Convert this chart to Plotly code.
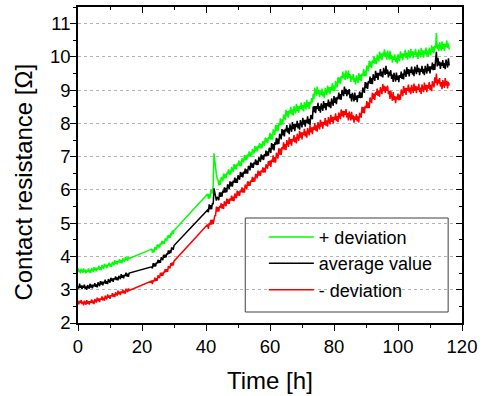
import plotly.graph_objects as go

# ---- data ----
# measurement times [h] of the three recorded segments
time_seg1 = [0, 0.25, 0.5, 0.75, 1, 1.25, 1.5, 1.75, 2, 2.25, 2.5, 2.75, 3,
             3.25, 3.5, 3.75, 4, 4.25, 4.5, 4.75, 5, 5.25, 5.5, 5.75, 6, 6.25,
             6.5, 6.75, 7, 7.25, 7.5, 7.75, 8, 8.25, 8.5, 8.75, 9, 9.25, 9.5,
             9.75, 10, 10.25, 10.5, 10.75, 11, 11.25, 11.5, 11.75, 12, 12.25, 12.5, 12.75,
             13, 13.25, 13.5, 13.75, 14, 14.25, 14.5, 14.75, 15, 15.25, 15.5, 15.75, 16]
time_seg2 = [23, 23.25, 23.5, 23.75, 24, 24.25, 24.5, 24.75, 25, 25.25, 25.5, 25.75, 26,
             26.25, 26.5, 26.75, 27, 27.25, 27.5, 27.75, 28, 28.25, 28.5, 28.75, 29,
             29.25, 29.5, 29.75, 30]
time_seg3 = [40.5, 40.75, 41, 41.25, 41.5, 41.75, 42, 42.25, 42.5, 42.75, 43, 43.25, 43.5,
             43.75, 44, 44.25, 44.5, 44.75, 45, 45.25, 45.5, 45.75, 46, 46.25, 46.5, 46.75,
             47, 47.25, 47.5, 47.75, 48, 48.25, 48.5, 48.75, 49, 49.25, 49.5, 49.75, 50,
             50.25, 50.5, 50.75, 51, 51.25, 51.5, 51.75, 52, 52.25, 52.5, 52.75, 53, 53.25,
             53.5, 53.75, 54, 54.25, 54.5, 54.75, 55, 55.25, 55.5, 55.75, 56, 56.25, 56.5,
             56.75, 57, 57.25, 57.5, 57.75, 58, 58.25, 58.5, 58.75, 59, 59.25, 59.5, 59.75,
             60, 60.25, 60.5, 60.75, 61, 61.25, 61.5, 61.75, 62, 62.25, 62.5, 62.75, 63,
             63.25, 63.5, 63.75, 64, 64.25, 64.5, 64.75, 65, 65.25, 65.5, 65.75, 66, 66.25,
             66.5, 66.75, 67, 67.25, 67.5, 67.75, 68, 68.25, 68.5, 68.75, 69, 69.25, 69.5,
             69.75, 70, 70.25, 70.5, 70.75, 71, 71.25, 71.5, 71.75, 72, 72.25, 72.5, 72.75,
             73, 73.25, 73.5, 73.75, 74, 74.25, 74.5, 74.75, 75, 75.25, 75.5, 75.75, 76,
             76.25, 76.5, 76.75, 77, 77.25, 77.5, 77.75, 78, 78.25, 78.5, 78.75, 79, 79.25,
             79.5, 79.75, 80, 80.25, 80.5, 80.75, 81, 81.25, 81.5, 81.75, 82, 82.25, 82.5,
             82.75, 83, 83.25, 83.5, 83.75, 84, 84.25, 84.5, 84.75, 85, 85.25, 85.5, 85.75,
             86, 86.25, 86.5, 86.75, 87, 87.25, 87.5, 87.75, 88, 88.25, 88.5, 88.75, 89,
             89.25, 89.5, 89.75, 90, 90.25, 90.5, 90.75, 91, 91.25, 91.5, 91.75, 92, 92.25,
             92.5, 92.75, 93, 93.25, 93.5, 93.75, 94, 94.25, 94.5, 94.75, 95, 95.25, 95.5,
             95.75, 96, 96.25, 96.5, 96.75, 97, 97.25, 97.5, 97.75, 98, 98.25, 98.5, 98.75,
             99, 99.25, 99.5, 99.75, 100, 100.25, 100.5, 100.75, 101, 101.25, 101.5, 101.75, 102,
             102.25, 102.5, 102.75, 103, 103.25, 103.5, 103.75, 104, 104.25, 104.5, 104.75, 105, 105.25,
             105.5, 105.75, 106, 106.25, 106.5, 106.75, 107, 107.25, 107.5, 107.75, 108, 108.25, 108.5,
             108.75, 109, 109.25, 109.5, 109.75, 110, 110.25, 110.5, 110.75, 111, 111.25, 111.5, 111.75,
             112, 112.25, 112.5, 112.75, 113, 113.25, 113.5, 113.75, 114, 114.25, 114.5, 114.75, 115,
             115.25, 115.5, 115.75, 116]

# "+ deviation" curve [Ohm]
plus_seg1 = [3.65, 3.53, 3.60, 3.49, 3.63, 3.58, 3.51, 3.64, 3.53, 3.60, 3.49, 3.59, 3.54,
             3.64, 3.52, 3.60, 3.50, 3.65, 3.60, 3.54, 3.68, 3.58, 3.66, 3.55, 3.66, 3.62,
             3.72, 3.60, 3.68, 3.59, 3.74, 3.69, 3.63, 3.78, 3.68, 3.75, 3.65, 3.76, 3.72,
             3.81, 3.70, 3.78, 3.69, 3.84, 3.80, 3.74, 3.89, 3.78, 3.86, 3.76, 3.87, 3.82,
             3.92, 3.81, 3.89, 3.79, 3.94, 3.90, 3.84, 3.99, 3.89, 3.97, 3.87, 3.98, 3.94]
plus_seg2 = [4.22, 4.12, 4.21, 4.12, 4.28, 4.25, 4.20, 4.36, 4.27, 4.36, 4.27, 4.39, 4.36,
             4.47, 4.37, 4.46, 4.38, 4.54, 4.52, 4.47, 4.63, 4.55, 4.64, 4.56, 4.68, 4.66,
             4.78, 4.68, 4.78]
plus_seg3 = [5.88, 5.73, 5.88, 5.75, 5.99, 5.96, 5.89, 6.14, 7.10, 6.85, 6.62, 6.46, 6.34,
             6.30, 6.14, 6.28, 6.15, 6.39, 6.34, 6.26, 6.49, 6.35, 6.48, 6.35, 6.52, 6.47,
             6.62, 6.46, 6.59, 6.46, 6.69, 6.64, 6.55, 6.78, 6.63, 6.76, 6.62, 6.79, 6.73,
             6.88, 6.72, 6.85, 6.72, 6.95, 6.91, 6.82, 7.05, 6.90, 7.04, 6.90, 7.07, 7.01,
             7.16, 7.00, 7.13, 7.00, 7.23, 7.18, 7.09, 7.32, 7.17, 7.30, 7.16, 7.33, 7.27,
             7.41, 7.25, 7.38, 7.25, 7.47, 7.42, 7.33, 7.57, 7.42, 7.55, 7.41, 7.59, 7.53,
             7.72, 7.51, 7.68, 7.51, 7.82, 7.75, 7.65, 7.96, 7.77, 7.95, 7.76, 8.00, 7.93,
             8.15, 7.95, 8.12, 7.96, 8.27, 8.21, 8.10, 8.41, 8.21, 8.37, 8.17, 8.39, 8.30,
             8.50, 8.27, 8.42, 8.23, 8.52, 8.43, 8.30, 8.59, 8.38, 8.53, 8.32, 8.53, 8.44,
             8.63, 8.40, 8.55, 8.36, 8.64, 8.55, 8.42, 8.71, 8.49, 8.64, 8.44, 8.65, 8.57,
             8.76, 8.63, 8.89, 8.74, 9.07, 8.97, 8.83, 9.11, 8.89, 9.02, 8.79, 8.97, 8.86,
             9.05, 8.81, 8.96, 8.76, 9.06, 8.97, 8.85, 9.14, 8.93, 9.09, 8.88, 9.09, 9.01,
             9.21, 8.98, 9.14, 8.97, 9.27, 9.20, 9.08, 9.39, 9.21, 9.38, 9.19, 9.42, 9.35,
             9.56, 9.35, 9.50, 9.31, 9.59, 9.50, 9.34, 9.60, 9.36, 9.48, 9.25, 9.43, 9.32,
             9.48, 9.24, 9.37, 9.17, 9.44, 9.35, 9.22, 9.51, 9.30, 9.47, 9.27, 9.50, 9.42,
             9.63, 9.42, 9.59, 9.42, 9.74, 9.67, 9.57, 9.88, 9.69, 9.86, 9.67, 9.90, 9.82,
             10.02, 9.80, 9.96, 9.78, 10.07, 9.99, 9.86, 10.16, 9.95, 10.11, 9.90, 10.12, 10.03,
             10.23, 10.00, 10.13, 9.92, 10.19, 10.08, 9.92, 10.18, 9.94, 10.06, 9.83, 10.02, 9.91,
             10.08, 9.85, 9.99, 9.80, 10.08, 10.00, 9.87, 10.17, 9.96, 10.11, 9.90, 10.11, 10.02,
             10.21, 9.97, 10.12, 9.92, 10.20, 10.10, 9.96, 10.24, 10.03, 10.17, 9.96, 10.16, 10.06,
             10.24, 10.00, 10.14, 9.94, 10.22, 10.12, 9.98, 10.27, 10.05, 10.20, 9.98, 10.19, 10.09,
             10.28, 10.04, 10.18, 9.99, 10.27, 10.17, 10.05, 10.35, 10.14, 10.30, 10.11, 10.34, 10.27,
             10.72, 10.24, 10.37, 10.17, 10.44, 10.34, 10.19, 10.47, 10.24, 10.39, 10.18, 10.39, 10.30,
             10.49, 10.26, 10.41, 10.22]

# "average value" curve [Ohm]
avg_seg1 = [3.11, 3.04, 3.18, 3.06, 3.13, 3.02, 3.12, 3.06, 3.15, 3.03, 3.10, 3.00, 3.14,
            3.10, 3.03, 3.18, 3.07, 3.15, 3.04, 3.15, 3.10, 3.20, 3.09, 3.16, 3.07, 3.22,
            3.18, 3.11, 3.26, 3.16, 3.24, 3.13, 3.24, 3.20, 3.30, 3.18, 3.26, 3.17, 3.32,
            3.27, 3.21, 3.36, 3.26, 3.34, 3.24, 3.35, 3.31, 3.40, 3.29, 3.37, 3.28, 3.42,
            3.38, 3.32, 3.47, 3.36, 3.44, 3.34, 3.45, 3.41, 3.51, 3.40, 3.48, 3.39, 3.50]
avg_seg2 = [3.69, 3.64, 3.80, 3.70, 3.79, 3.70, 3.82, 3.79, 3.90, 3.80, 3.89, 3.81, 3.97,
            3.94, 3.89, 4.05, 3.96, 4.05, 3.97, 4.09, 4.06, 4.18, 4.08, 4.18, 4.10, 4.27,
            4.25, 4.20, 4.33]
avg_seg3 = [5.40, 5.33, 5.57, 5.42, 5.54, 5.42, 5.60, 5.57, 6.05, 5.90, 5.80, 5.68, 5.79,
            5.76, 5.69, 5.93, 5.79, 5.93, 5.80, 5.98, 5.92, 6.08, 5.92, 6.06, 5.93, 6.17,
            6.12, 6.03, 6.26, 6.11, 6.24, 6.10, 6.28, 6.22, 6.37, 6.21, 6.34, 6.21, 6.44,
            6.39, 6.31, 6.54, 6.39, 6.52, 6.38, 6.55, 6.49, 6.64, 6.49, 6.62, 6.49, 6.72,
            6.68, 6.59, 6.82, 6.67, 6.80, 6.66, 6.83, 6.77, 6.92, 6.75, 6.88, 6.75, 6.98,
            6.93, 6.84, 7.07, 6.92, 7.04, 6.90, 7.08, 7.02, 7.18, 7.02, 7.16, 7.03, 7.27,
            7.22, 7.11, 7.41, 7.22, 7.38, 7.19, 7.43, 7.36, 7.57, 7.37, 7.54, 7.38, 7.69,
            7.62, 7.52, 7.83, 7.64, 7.81, 7.61, 7.84, 7.76, 7.95, 7.72, 7.87, 7.68, 7.97,
            7.88, 7.75, 8.04, 7.83, 7.98, 7.77, 7.98, 7.89, 8.08, 7.85, 8.00, 7.81, 8.10,
            8.01, 7.88, 8.17, 7.96, 8.11, 7.90, 8.11, 8.02, 8.21, 7.98, 8.14, 7.95, 8.25,
            8.16, 8.13, 8.51, 8.34, 8.52, 8.31, 8.52, 8.43, 8.62, 8.38, 8.52, 8.32, 8.60,
            8.51, 8.38, 8.67, 8.46, 8.61, 8.40, 8.61, 8.52, 8.72, 8.49, 8.65, 8.46, 8.75,
            8.66, 8.53, 8.82, 8.62, 8.78, 8.58, 8.80, 8.73, 8.93, 8.72, 8.88, 8.71, 9.01,
            8.94, 8.82, 9.11, 8.89, 9.04, 8.82, 9.00, 8.87, 9.03, 8.76, 8.88, 8.66, 8.92,
            8.80, 8.66, 8.93, 8.71, 8.84, 8.64, 8.85, 8.77, 8.96, 8.76, 8.93, 8.77, 9.08,
            9.02, 8.92, 9.24, 9.06, 9.23, 9.04, 9.27, 9.20, 9.41, 9.19, 9.36, 9.18, 9.48,
            9.40, 9.28, 9.58, 9.37, 9.52, 9.31, 9.52, 9.44, 9.63, 9.41, 9.56, 9.38, 9.67,
            9.59, 9.46, 9.73, 9.49, 9.62, 9.38, 9.56, 9.44, 9.60, 9.34, 9.47, 9.25, 9.52,
            9.40, 9.26, 9.53, 9.31, 9.44, 9.24, 9.45, 9.37, 9.56, 9.34, 9.50, 9.32, 9.62,
            9.53, 9.40, 9.69, 9.48, 9.63, 9.41, 9.62, 9.52, 9.71, 9.47, 9.62, 9.42, 9.71,
            9.61, 9.48, 9.76, 9.54, 9.67, 9.45, 9.64, 9.55, 9.73, 9.50, 9.64, 9.45, 9.73,
            9.64, 9.50, 9.79, 9.57, 9.72, 9.50, 9.72, 9.63, 9.83, 9.60, 9.78, 9.61, 9.93,
            10.15, 9.71, 9.97, 9.74, 9.86, 9.64, 9.83, 9.73, 9.90, 9.67, 9.82, 9.63, 9.92,
            9.82, 9.68, 9.96, 9.74]

# "- deviation" curve [Ohm]
minus_seg1 = [2.67, 2.56, 2.66, 2.60, 2.69, 2.57, 2.64, 2.53, 2.67, 2.62, 2.55, 2.69, 2.58,
              2.66, 2.55, 2.66, 2.61, 2.71, 2.59, 2.67, 2.57, 2.72, 2.68, 2.61, 2.76, 2.66,
              2.74, 2.63, 2.74, 2.70, 2.80, 2.68, 2.76, 2.67, 2.82, 2.77, 2.71, 2.86, 2.76,
              2.83, 2.73, 2.84, 2.80, 2.90, 2.79, 2.87, 2.78, 2.92, 2.88, 2.82, 2.97, 2.86,
              2.94, 2.84, 2.95, 2.90, 3.00, 2.89, 2.97, 2.88, 3.03, 2.99, 2.93, 3.04, 2.98]
minus_seg2 = [3.26, 3.17, 3.29, 3.25, 3.36, 3.26, 3.35, 3.27, 3.43, 3.40, 3.35, 3.51, 3.42,
              3.51, 3.42, 3.54, 3.51, 3.62, 3.53, 3.62, 3.54, 3.71, 3.68, 3.64, 3.80, 3.72,
              3.82, 3.73, 3.86]
minus_seg3 = [4.96, 4.83, 5.01, 4.95, 5.10, 4.96, 5.11, 4.97, 5.19, 5.22, 5.23, 5.50, 5.35,
              5.48, 5.35, 5.52, 5.46, 5.60, 5.44, 5.57, 5.43, 5.66, 5.60, 5.51, 5.74, 5.59,
              5.72, 5.58, 5.75, 5.68, 5.83, 5.67, 5.80, 5.66, 5.89, 5.84, 5.75, 5.98, 5.83,
              5.96, 5.82, 5.99, 5.93, 6.08, 5.92, 6.05, 5.92, 6.16, 6.11, 6.03, 6.26, 6.12,
              6.25, 6.12, 6.29, 6.24, 6.39, 6.24, 6.37, 6.25, 6.48, 6.44, 6.35, 6.58, 6.43,
              6.56, 6.42, 6.59, 6.53, 6.68, 6.52, 6.66, 6.53, 6.77, 6.72, 6.64, 6.87, 6.73,
              6.88, 6.69, 6.91, 6.84, 7.04, 6.83, 6.99, 6.82, 7.12, 7.05, 6.94, 7.25, 7.06,
              7.24, 7.05, 7.29, 7.22, 7.43, 7.21, 7.38, 7.20, 7.50, 7.41, 7.29, 7.58, 7.38,
              7.53, 7.33, 7.54, 7.46, 7.65, 7.43, 7.58, 7.40, 7.69, 7.61, 7.48, 7.78, 7.57,
              7.73, 7.52, 7.73, 7.65, 7.84, 7.61, 7.76, 7.57, 7.86, 7.77, 7.64, 7.94, 7.73,
              7.88, 7.68, 7.90, 7.81, 8.01, 7.78, 7.94, 7.75, 8.04, 7.95, 7.82, 8.11, 7.90,
              8.05, 7.84, 8.05, 7.96, 8.16, 7.93, 8.09, 7.90, 8.19, 8.10, 7.97, 8.26, 8.05,
              8.20, 7.99, 8.20, 8.11, 8.30, 8.07, 8.22, 8.04, 8.33, 8.25, 8.12, 8.42, 8.22,
              8.38, 8.18, 8.37, 8.26, 8.43, 8.18, 8.31, 8.09, 8.36, 8.24, 8.09, 8.35, 8.12,
              8.24, 8.02, 8.21, 8.11, 8.28, 8.06, 8.21, 8.03, 8.32, 8.27, 8.17, 8.50, 8.32,
              8.49, 8.30, 8.53, 8.46, 8.67, 8.46, 8.63, 8.46, 8.78, 8.71, 8.61, 8.92, 8.73,
              8.90, 8.71, 8.94, 8.86, 9.05, 8.83, 8.98, 8.80, 9.09, 9.01, 8.88, 9.18, 8.97,
              9.13, 8.92, 9.10, 8.98, 9.14, 8.88, 8.98, 8.74, 8.98, 8.84, 8.68, 8.94, 8.70,
              8.82, 8.61, 8.81, 8.72, 8.90, 8.70, 8.87, 8.71, 9.02, 8.94, 8.82, 9.12, 8.92,
              9.07, 8.86, 9.07, 8.98, 9.17, 8.93, 9.08, 8.88, 9.16, 9.06, 8.92, 9.20, 8.98,
              9.13, 8.91, 9.11, 9.01, 9.19, 8.94, 9.08, 8.89, 9.17, 9.08, 8.94, 9.23, 9.01,
              9.16, 8.94, 9.15, 9.05, 9.24, 9.00, 9.16, 8.97, 9.27, 9.18, 9.08, 9.39, 9.21,
              9.50, 9.14, 9.32, 9.20, 9.36, 9.11, 9.24, 9.03, 9.30, 9.21, 9.07, 9.36, 9.14,
              9.28, 9.05, 9.25, 9.14]

series_names = ["+ deviation", "average value", "- deviation"]
series_colors = ["#00ff00", "#000000", "#ff0000"]
x_tick_values = [0, 20, 40, 60, 80, 100, 120]
y_tick_values = [2, 3, 4, 5, 6, 7, 8, 9, 10, 11]

time_h = time_seg1 + time_seg2 + time_seg3
plus_deviation = plus_seg1 + plus_seg2 + plus_seg3
average_value = avg_seg1 + avg_seg2 + avg_seg3
minus_deviation = minus_seg1 + minus_seg2 + minus_seg3

for s in (plus_deviation, average_value, minus_deviation):
    assert len(s) == len(time_h), (len(s), len(time_h))

FONT = "Liberation Sans, Arial, sans-serif"

fig = go.Figure()
for name, vals, col in zip(series_names, [plus_deviation, average_value, minus_deviation], series_colors):
    fig.add_trace(go.Scatter(x=time_h, y=vals, mode="lines", name=name,
                             line=dict(color=col, width=1.5), hoverinfo="x+y"))

# empty trace so that the top/right frame axes (ticks pointing inward) are drawn
fig.add_trace(go.Scatter(x=[], y=[], xaxis="x2", yaxis="y2", showlegend=False,
                         hoverinfo="skip", mode="lines"))

axis_common = dict(showline=True, linecolor="black", linewidth=1.5, zeroline=False,
                   tickcolor="black", tickwidth=1.2, fixedrange=True)

fig.update_layout(
    width=484, height=396,
    margin=dict(l=78, r=18, t=7, b=73),
    paper_bgcolor="white", plot_bgcolor="white",
    font=dict(family=FONT, color="black"),
    xaxis=dict(range=[0, 120], tickvals=x_tick_values, ticks="outside", ticklen=6,
               showgrid=False, tickfont=dict(size=18.5, family=FONT),
               minor=dict(dtick=10, tick0=0, ticks="outside", ticklen=3, tickcolor="black", showgrid=False),
               **axis_common),
    yaxis=dict(range=[2, 11.5], tickvals=y_tick_values, ticks="outside", ticklen=6,
               showgrid=True, gridcolor="#b4b4b4", griddash="dot", gridwidth=1,
               tickfont=dict(size=18.5, family=FONT), ticklabelstandoff=-4,
               minor=dict(dtick=0.5, tick0=0, ticks="outside", ticklen=3, tickcolor="black", showgrid=False),
               **axis_common),
    xaxis2=dict(overlaying="x", side="top", anchor="y2", range=[0, 120], tickvals=x_tick_values,
                ticks="inside", ticklen=6, showticklabels=False, showgrid=False,
                minor=dict(dtick=10, tick0=0, ticks="inside", ticklen=3, tickcolor="black", showgrid=False),
                **axis_common),
    yaxis2=dict(overlaying="y", side="right", anchor="x2", range=[2, 11.5], tickvals=y_tick_values,
                ticks="inside", ticklen=6, showticklabels=False, showgrid=False,
                minor=dict(dtick=0.5, tick0=0, ticks="inside", ticklen=3, tickcolor="black", showgrid=False),
                **axis_common),
    legend=dict(x=0.484, y=0.330, xanchor="left", yanchor="top",
                bgcolor="rgba(0,0,0,0)", borderwidth=0,
                font=dict(size=18, family=FONT), itemwidth=45, tracegroupgap=0),
    showlegend=True,
    shapes=[dict(type="rect", xref="paper", yref="paper",
                 x0=(247 - 78) / 388, x1=(452 - 78) / 388,
                 y0=(323 - 312) / 316, y1=(323 - 218) / 316,
                 line=dict(color="#404040", width=1), fillcolor="rgba(0,0,0,0)", layer="above")],
    annotations=[
        dict(text="Time [h]", xref="paper", yref="paper", x=0.5, y=(323 - 380) / 316,
             xanchor="center", yanchor="middle", showarrow=False, font=dict(size=24, family=FONT)),
        dict(text="Contact resistance [\u03a9]", xref="paper", yref="paper",
             x=(22 - 78) / 388, y=(323 - 182) / 316, textangle=-90,
             xanchor="center", yanchor="middle", showarrow=False, font=dict(size=24, family=FONT)),
    ],
)

fig.write_html("out.html")
